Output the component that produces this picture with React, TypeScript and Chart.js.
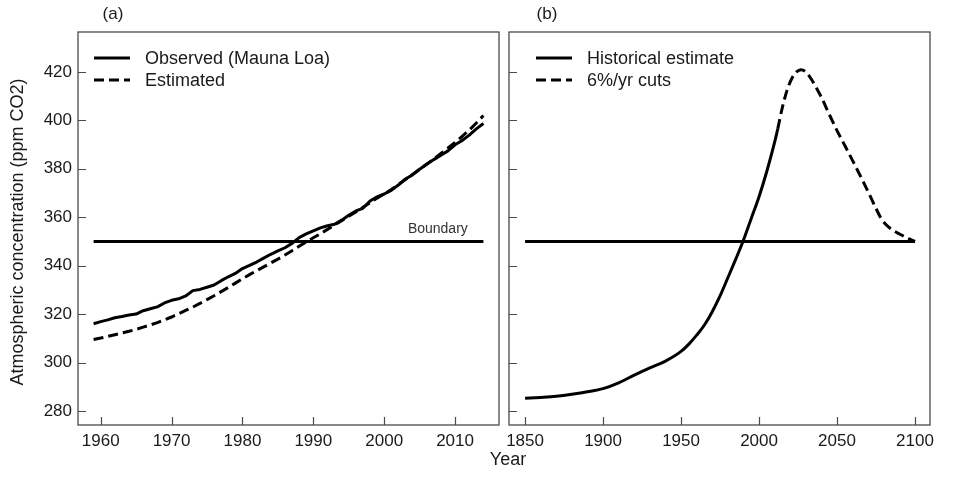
import React, { useEffect, useRef } from "react";
import { Chart, registerables } from "chart.js";

Chart.register(...registerables);

// ---------- Data ----------
const OBS_YEARS = [
  1959, 1960, 1961, 1962, 1963, 1964, 1965, 1966, 1967, 1968, 1969, 1970, 1971, 1972,
  1973, 1974, 1975, 1976, 1977, 1978, 1979, 1980, 1981, 1982, 1983, 1984, 1985, 1986,
  1987, 1988, 1989, 1990, 1991, 1992, 1993, 1994, 1995, 1996, 1997, 1998, 1999, 2000,
  2001, 2002, 2003, 2004, 2005, 2006, 2007, 2008, 2009, 2010, 2011, 2012, 2013, 2014,
];
const OBS_VALUES = [
  316.0, 316.9, 317.6, 318.5, 319.0, 319.6, 320.0, 321.4, 322.2, 323.0, 324.6, 325.7, 326.3, 327.5,
  329.7, 330.2, 331.1, 332.0, 333.8, 335.4, 336.8, 338.8, 340.1, 341.5, 343.1, 344.7, 346.1, 347.4,
  349.2, 351.6, 353.1, 354.4, 355.6, 356.5, 357.1, 358.8, 360.8, 362.6, 363.7, 366.7, 368.4, 369.6,
  371.1, 373.3, 375.8, 377.5, 379.8, 381.9, 383.8, 385.6, 387.4, 389.9, 391.7, 393.9, 396.5, 398.7,
];
const EST_VALUES = [
  309.5, 310.1, 310.8, 311.5, 312.2, 312.9, 313.7, 314.6, 315.5, 316.5, 317.6, 318.8, 320.1, 321.5,
  322.9, 324.4, 326.0, 327.6, 329.3, 331.0, 332.8, 334.6, 336.3, 337.9, 339.5, 341.1, 342.7, 344.4,
  346.2, 348.0, 349.8, 351.5, 353.2, 355.0, 356.8, 358.6, 360.4, 362.2, 364.1, 366.0, 367.9, 369.6,
  371.5, 373.5, 375.6, 377.7, 379.8, 381.9, 384.1, 386.3, 388.6, 390.9, 393.4, 396.0, 398.9, 402.0,
];
const BOUNDARY_VALUE = 350;
const A_BOUNDARY_YEARS = [1959, 2014];
const B_BOUNDARY_YEARS = [1850, 2100];

const HIST_YEARS = [
  1850, 1860, 1870, 1880, 1890, 1900, 1910, 1920, 1930, 1940, 1950, 1955, 1960, 1965,
  1970, 1975, 1980, 1985, 1990, 1995, 2000, 2005, 2010, 2012,
];
const HIST_VALUES = [
  285.2, 285.6, 286.1, 286.9, 287.9, 289.2, 291.6, 294.8, 297.8, 300.6, 304.6, 307.6, 311.3, 315.5,
  321.0, 327.5, 335.0, 342.6, 350.5, 359.5, 368.5, 379.0, 391.0, 396.5,
];
const CUTS_YEARS = [
  2012, 2015, 2018, 2021, 2024, 2027, 2030, 2033, 2036, 2040, 2045, 2050, 2055, 2060,
  2065, 2070, 2075, 2078, 2081, 2085, 2090, 2095, 2100,
];
const CUTS_VALUES = [
  396.5, 405.5, 412.5, 417.3, 420.0, 420.9, 420.0, 417.5, 414.3, 409.5, 402.5, 395.8, 389.6, 383.4,
  377.0, 370.4, 363.6, 359.8, 357.2, 355.0, 353.1, 351.5, 350.0,
];

const A_X_TICKS = [1960, 1970, 1980, 1990, 2000, 2010];
const B_X_TICKS = [1850, 1900, 1950, 2000, 2050, 2100];
const Y_TICKS = [280, 300, 320, 340, 360, 380, 400, 420];

const A_LABELS = ["Observed (Mauna Loa)", "Estimated", "Boundary"];
const B_LABELS = ["Historical estimate", "6%/yr cuts", "Boundary"];
const PANEL_TAGS = ["(a)", "(b)"];
const X_TITLE = "Year";
const Y_TITLE = "Atmospheric concentration (ppm CO2)";

// ---------- Styling ----------
const FONT = '"Liberation Sans", Arial, Helvetica, sans-serif';
const FRAME = "#4a4a4a";
const TEXT = "#1a1a1a";
const LINE_W = 3;
const DASH = [10, 5];

const pts = (xs: number[], ys: number[]) => xs.map((x, i) => ({ x, y: ys[i] }));

function panelPlugin(cfg: any) {
  return {
    id: "panel" + cfg.id,
    afterDraw(chart: any) {
      const ctx = chart.ctx as CanvasRenderingContext2D;
      const a = chart.chartArea;
      ctx.save();
      // frame
      ctx.setLineDash([]);
      ctx.strokeStyle = FRAME;
      ctx.lineWidth = 1.3;
      ctx.strokeRect(a.left, a.top, a.right - a.left, a.bottom - a.top);
      // inward tick marks
      const xs = chart.scales.x;
      const ys = chart.scales.y;
      ctx.lineWidth = 1.2;
      ctx.beginPath();
      xs.ticks.forEach((t: any) => {
        const px = Math.round(xs.getPixelForValue(t.value)) + 0.5;
        ctx.moveTo(px, a.bottom);
        ctx.lineTo(px, a.bottom - 8);
      });
      ys.ticks.forEach((t: any) => {
        const py = Math.round(ys.getPixelForValue(t.value)) + 0.5;
        ctx.moveTo(a.left, py);
        ctx.lineTo(a.left + 8, py);
      });
      ctx.stroke();

      // legend
      const ds = chart.data.datasets
        .filter((d: any) => d.legendOrder !== undefined)
        .sort((d1: any, d2: any) => d1.legendOrder - d2.legendOrder);
      ctx.font = `18px ${FONT}`;
      ctx.textBaseline = "middle";
      ctx.textAlign = "left";
      ds.forEach((d: any, i: number) => {
        const y = a.top + 26 + i * 22;
        const x0 = a.left + cfg.legendX;
        ctx.strokeStyle = "#000";
        ctx.lineWidth = LINE_W;
        ctx.setLineDash(d.borderDash || []);
        ctx.beginPath();
        ctx.moveTo(x0, y);
        ctx.lineTo(x0 + 36, y);
        ctx.stroke();
        ctx.setLineDash([]);
        ctx.fillStyle = TEXT;
        ctx.fillText(d.label, x0 + 51, y + 1);
      });

      // boundary label
      if (cfg.boundaryLabel) {
        ctx.font = `14px ${FONT}`;
        ctx.textAlign = "right";
        ctx.fillStyle = "#333";
        const bx = xs.getPixelForValue(2011.8);
        const by = ys.getPixelForValue(BOUNDARY_VALUE) - 12;
        ctx.fillText(cfg.boundaryLabel, bx, by);
      }

      // panel tag
      ctx.font = `17px ${FONT}`;
      ctx.textAlign = "center";
      ctx.fillStyle = TEXT;
      ctx.fillText(cfg.tag, a.left + cfg.tagX, 14);

      if (cfg.titles) {
        ctx.font = `18px ${FONT}`;
        ctx.textAlign = "center";
        ctx.fillText(X_TITLE, 508, 460);
        ctx.save();
        ctx.translate(18, 232);
        ctx.rotate(-Math.PI / 2);
        ctx.fillText(Y_TITLE, 0, 0);
        ctx.restore();
      }
      ctx.restore();
    },
  };
}

function makeConfig(p: any) {
  return {
    type: "line",
    data: { datasets: p.datasets },
    options: {
      animation: false,
      responsive: false,
      devicePixelRatio: 1,
      events: [],
      layout: { padding: p.padding },
      plugins: { legend: { display: false }, tooltip: { enabled: false } },
      elements: { point: { radius: 0 } },
      scales: {
        x: {
          type: "linear",
          min: p.xMin,
          max: p.xMax,
          afterBuildTicks: (s: any) => {
            s.ticks = p.xTicks.map((v: number) => ({ value: v }));
          },
          afterFit: (s: any) => {
            s.height = 69;
          },
          grid: { display: false, drawTicks: false },
          border: { display: false },
          ticks: {
            autoSkip: false,
            maxRotation: 0,
            padding: 6,
            color: TEXT,
            font: { family: FONT, size: 17 },
            callback: (v: any) => String(v),
          },
        },
        y: {
          type: "linear",
          min: 274.2,
          max: 436.5,
          afterBuildTicks: (s: any) => {
            s.ticks = Y_TICKS.map((v) => ({ value: v }));
          },
          afterFit: (s: any) => {
            s.width = p.yWidth;
          },
          grid: { display: false, drawTicks: false },
          border: { display: false },
          ticks: {
            display: p.yLabels,
            autoSkip: false,
            padding: 6,
            color: TEXT,
            font: { family: FONT, size: 17 },
            callback: (v: any) => String(v),
          },
        },
      },
    },
    plugins: [panelPlugin(p.plugin)],
  };
}

const lineDs = (label: string, data: any[], extra: any = {}) => ({
  label,
  data,
  borderColor: "#000",
  backgroundColor: "#000",
  borderWidth: LINE_W,
  pointRadius: 0,
  fill: false,
  tension: 0,
  borderCapStyle: "butt",
  ...extra,
});

export default function App() {
  const refA = useRef<HTMLCanvasElement>(null);
  const refB = useRef<HTMLCanvasElement>(null);

  useEffect(() => {
    const cfgA = makeConfig({
      padding: { left: 0, top: 32, right: 465, bottom: 0 },
      xMin: 1956.8,
      xMax: 2016.2,
      xTicks: A_X_TICKS,
      yWidth: 78,
      yLabels: true,
      datasets: [
        lineDs(A_LABELS[2], pts(A_BOUNDARY_YEARS, [BOUNDARY_VALUE, BOUNDARY_VALUE])),
        lineDs(A_LABELS[0], pts(OBS_YEARS, OBS_VALUES), { legendOrder: 0, borderJoinStyle: "round" }),
        lineDs(A_LABELS[1], pts(OBS_YEARS, EST_VALUES), { borderDash: DASH, legendOrder: 1 }),
      ],
      plugin: { id: "A", legendX: 16, tag: PANEL_TAGS[0], tagX: 35, boundaryLabel: A_LABELS[2], titles: true },
    });
    const cfgB = makeConfig({
      padding: { left: 508, top: 32, right: 34, bottom: 0 },
      xMin: 1839.7,
      xMax: 2109.6,
      xTicks: B_X_TICKS,
      yWidth: 1,
      yLabels: false,
      datasets: [
        lineDs(B_LABELS[0], pts(HIST_YEARS, HIST_VALUES), { legendOrder: 0, cubicInterpolationMode: "monotone" }),
        lineDs(B_LABELS[1], pts(CUTS_YEARS, CUTS_VALUES), {
          borderDash: DASH,
          legendOrder: 1,
          cubicInterpolationMode: "monotone",
        }),
        lineDs(B_LABELS[2], pts(B_BOUNDARY_YEARS, [BOUNDARY_VALUE, BOUNDARY_VALUE])),
      ],
      plugin: { id: "B", legendX: 27, tag: PANEL_TAGS[1], tagX: 38, boundaryLabel: null, titles: false },
    });
    const ca = new Chart(refA.current as HTMLCanvasElement, cfgA as any);
    const cb = new Chart(refB.current as HTMLCanvasElement, cfgB as any);
    return () => {
      ca.destroy();
      cb.destroy();
    };
  }, []);

  return (
    <div style={{ position: "fixed", left: 0, top: 0, width: 964, height: 494, background: "#fff" }}>
      <canvas ref={refA} width={964} height={494} style={{ position: "absolute", left: 0, top: 0 }} />
      <canvas ref={refB} width={964} height={494} style={{ position: "absolute", left: 0, top: 0 }} />
    </div>
  );
}
